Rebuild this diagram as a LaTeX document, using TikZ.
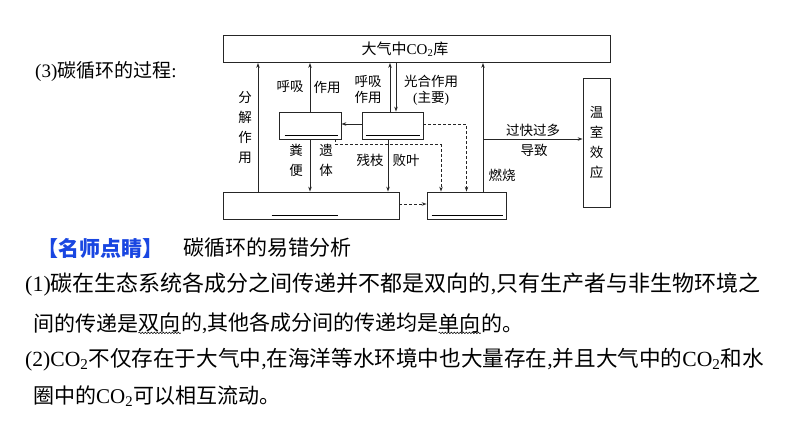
\documentclass[tikz,border=0pt]{standalone}
\usepackage{fontspec}
\setmainfont{Liberation Serif}
\newfontfamily\cjk{Noto Sans CJK SC}
\usetikzlibrary{arrows.meta, calc, decorations.pathmorphing}
\definecolor{tipblue}{RGB}{25,70,225}
\newcommand{\lat}[1]{{\rmfamily #1}}

\begin{document}
\begin{tikzpicture}[
    x=1pt, y=-1pt,
    box/.style={draw=black!85, line width=0.8pt, inner sep=0pt},
    lbl/.style={font=\cjk\fontsize{13.5}{20}\selectfont, align=center, inner sep=0pt},
    txt/.style={anchor=west, inner sep=0pt, font=\cjk\fontsize{21}{25}\selectfont},
    arrow/.style={-{Stealth[length=5pt,width=3.5pt]}, line width=0.8pt, black!85},
    dasharrow/.style={arrow, dash pattern=on 3pt off 2pt},
    wavy/.style={decorate, decoration={snake, amplitude=0.8pt, segment length=3pt}, line width=0.5pt}
]
\useasboundingbox (0,0) rectangle (794,446);

\node[txt, font=\cjk\fontsize{19}{23}\selectfont] (title) at (35,72) {\lat{(3)}碳循环的过程\lat{:}};

% boxes
\node[box, minimum width=387, minimum height=27] (atm) at (416.5,49) {};
\node[lbl, font=\cjk\fontsize{15}{18}\selectfont] (atmtext) at (405,49) {大气中\lat{CO\textsubscript{2}}库};
\node[box, minimum width=62, minimum height=27] (cons) at (310,125.5) {};
\node[box, minimum width=61, minimum height=27] (prod) at (392.5,125.5) {};
\node[box, minimum width=176, minimum height=27] (dec) at (311,205.5) {};
\node[box, minimum width=79, minimum height=27] (fos) at (466.5,205.5) {};
\node[box, lbl, minimum width=27, minimum height=129] (gh) at (596.5,142.5) {温\\室\\效\\应};

% blanks
\draw[line width=0.8pt] ($(cons.south west)+(6,-4)$) -- ($(cons.south east)+(-3,-4)$);
\draw[line width=0.8pt] ($(prod.south west)+(4,-4)$) -- ($(prod.south east)+(-3,-4)$);
\draw[line width=0.8pt] ($(dec.south west)+(49,-4)$) -- ($(dec.south east)+(-61,-4)$);
\draw[line width=0.8pt] ($(fos.south west)+(5,-4)$) -- ($(fos.south east)+(-3,-4)$);

% to the atmosphere
\coordinate (d1) at ([xshift=-53]dec.north);
\draw[arrow] (d1) -- (d1 |- atm.south);
\node[lbl] (decomp) at (245,128) {分\\解\\作\\用};
\draw[arrow] (cons.north) -- (cons.north |- atm.south);
\node[lbl] (resp1) at (290,87) {呼吸};
\node[lbl] (resp2) at (327,87) {作用};
\coordinate (p1) at ([xshift=-2.5]prod.north);
\coordinate (p2) at ([xshift=3.5]prod.north);
\draw[arrow] (p1) -- (p1 |- atm.south);
\draw[arrow] (p2 |- atm.south) -- (p2);
\node[lbl, font=\cjk\fontsize{13.5}{16}\selectfont] (resp3) at (368,90) {呼吸\\作用};
\node[lbl, font=\cjk\fontsize{13.5}{16}\selectfont] (photo) at (431,90) {光合作用\\\lat{(}主要\lat{)}};

% food chain and litter
\draw[arrow] ([yshift=1.5]prod.west) -- ([yshift=1.5]cons.east);
\draw[arrow] (cons.south) -- (cons.south |- dec.north);
\node[lbl] (feces) at (296,160) {粪\\便};
\node[lbl] (body) at (326,160) {遗\\体};
\coordinate (p3) at ([xshift=-4.5]prod.south);
\draw[arrow] (p3) -- (p3 |- dec.north);
\node[lbl] (litter1) at (370,160) {残枝};
\node[lbl] (litter2) at (406,160) {败叶};

% fossil fuels
\draw[dasharrow] ([xshift=-6]cons.south east) -- ++(0,5) -| ([xshift=-25.5]fos.north);
\draw[dasharrow] ([yshift=1.5]prod.east) -| (fos.north);
\draw[dasharrow] ([yshift=1.5]dec.east) -- ([yshift=1.5]fos.west);
\coordinate (f1) at ([xshift=16.5]fos.north);
\draw[arrow] (f1) -- (f1 |- atm.south);
\node[lbl] (burn) at (502,175) {燃烧};
\coordinate (f2) at (483,139);
\draw[arrow] (f2) -- (f2 -| gh.west);
\node[lbl] (toomuch) at (533,130) {过快过多};
\node[lbl] (cause) at (534,150) {导致};

% notes
\node[txt, text=tipblue, font=\cjk\bfseries\fontsize{21}{25}\selectfont] (tiphead) at (37,248) {【名师点睛】};
\node[txt] (tiptitle) at (183,248) {碳循环的易错分析};
\node[txt, font=\cjk\fontsize{22}{25}\selectfont] (line1) at (25,285) {\lat{(1)}碳在生态系统各成分之间传递并不都是双向的\lat{,}只有生产者与非生物环境之};
\node[txt] (l2a) at (33,323) {间的传递是};
\node[txt] (l2b) at (l2a.east) {双向};
\node[txt] (l2c) at (l2b.east) {的\lat{,}其他各成分间的传递均是};
\node[txt] (l2d) at (l2c.east) {单向};
\node[txt] (l2e) at (l2d.east) {的。};
\draw[wavy] (l2b.south west) -- (l2b.south east);
\draw[wavy] (l2d.south west) -- (l2d.south east);
\node[txt, font=\cjk\fontsize{21.6}{25}\selectfont] (line3) at (25,360) {\lat{(2)CO\textsubscript{2}}不仅存在于大气中\lat{,}在海洋等水环境中也大量存在\lat{,}并且大气中的\lat{CO\textsubscript{2}}和水};
\node[txt] (line4) at (33,396) {圈中的\lat{CO\textsubscript{2}}可以相互流动。};

\end{tikzpicture}
\end{document}
